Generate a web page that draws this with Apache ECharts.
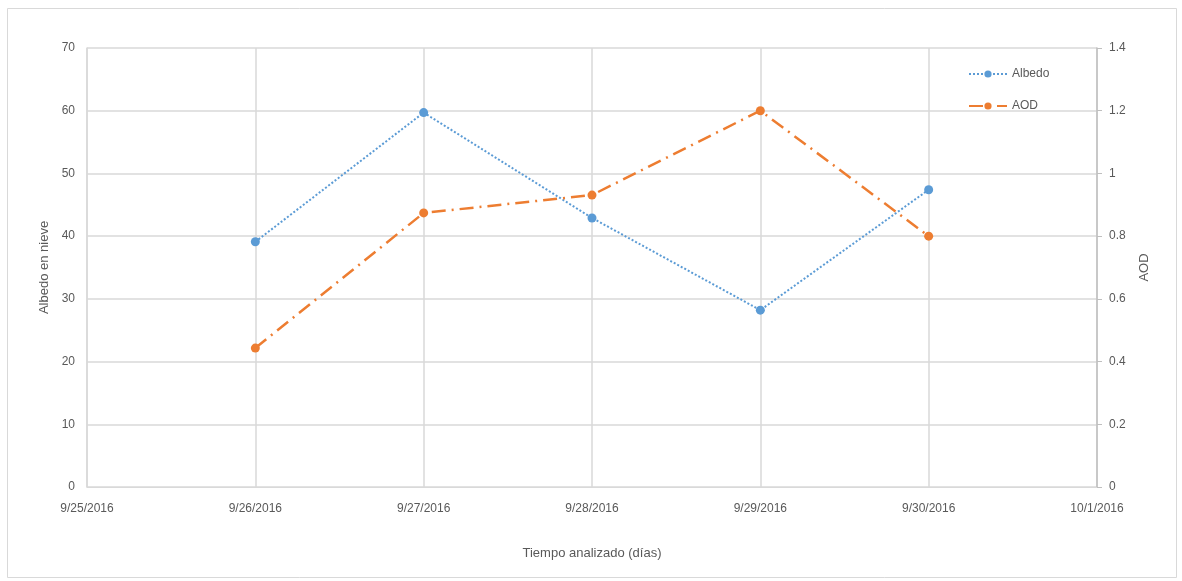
<!DOCTYPE html>
<html>
<head>
<meta charset="utf-8">
<script src="https://cdn.jsdelivr.net/npm/echarts@6/dist/echarts.min.js"></script>
<style>
  html, body { margin: 0; padding: 0; background: #ffffff; }
  #chart { width: 1182px; height: 581px; }
</style>
</head>
<body>
<div id="chart"></div>
<script>
// Daily categories along the time axis (first and last are empty margins)
const dates = ['9/25/2016', '9/26/2016', '9/27/2016', '9/28/2016', '9/29/2016', '9/30/2016', '10/1/2016'];
// Snow albedo (left axis)
const albedo = [null, 39.1, 59.7, 42.9, 28.2, 47.4, null];
// Aerosol optical depth (right axis)
const aod = [null, 0.443, 0.874, 0.931, 1.2, 0.8, null];

const textColor = '#595959';
const gridColor = '#d9d9d9';
const font = 'Liberation Sans, Arial, sans-serif';

const chart = echarts.init(document.getElementById('chart'), null, { renderer: 'canvas' });

chart.setOption({
  animation: false,
  backgroundColor: '#ffffff',
  textStyle: { fontFamily: font },
  graphic: [{
    type: 'rect',
    shape: { x: 7.5, y: 8.5, width: 1169, height: 569 },
    style: { fill: 'none', stroke: gridColor, lineWidth: 1 },
    silent: true
  }],
  grid: { left: 87, right: 85, top: 48, bottom: 94 },
  legend: {
    orient: 'vertical',
    left: 963,
    top: 63,
    itemWidth: 38,
    itemHeight: 9,
    itemGap: 20,
    textStyle: { color: textColor, fontSize: 12, fontFamily: font },
    data: ['Albedo', 'AOD']
  },
  xAxis: {
    type: 'category',
    data: dates,
    boundaryGap: false,
    name: 'Tiempo analizado (días)',
    nameLocation: 'middle',
    nameGap: 60,
    nameTextStyle: { color: textColor, fontSize: 13, fontFamily: font },
    axisLine: { show: true, lineStyle: { color: gridColor, width: 1 } },
    axisTick: { show: false },
    axisLabel: { color: textColor, fontSize: 12, margin: 16, fontFamily: font },
    splitLine: { show: true, lineStyle: { color: gridColor, width: 1.5 } }
  },
  yAxis: [{
    type: 'value',
    min: 0, max: 70, interval: 10,
    position: 'left',
    name: 'Albedo en nieve',
    nameLocation: 'middle',
    nameGap: 29,
    nameRotate: 90,
    nameTextStyle: { color: textColor, fontSize: 13, fontFamily: font },
    axisLine: { show: true, lineStyle: { color: gridColor, width: 1.5 } },
    axisTick: { show: false },
    axisLabel: { color: textColor, fontSize: 12, margin: 12, fontFamily: font },
    splitLine: { show: true, lineStyle: { color: gridColor, width: 1.5 } }
  }, {
    type: 'value',
    min: 0, max: 1.4, interval: 0.2,
    position: 'right',
    name: 'AOD',
    nameLocation: 'middle',
    nameGap: 41,
    nameRotate: 90,
    nameTextStyle: { color: textColor, fontSize: 13, fontFamily: font },
    axisLine: { show: true, lineStyle: { color: '#bfbfbf', width: 1.5 } },
    axisTick: { show: true, length: 5, lineStyle: { color: '#bfbfbf' } },
    axisLabel: { color: textColor, fontSize: 12, margin: 12, fontFamily: font },
    splitLine: { show: false }
  }],
  series: [{
    name: 'Albedo',
    type: 'line',
    yAxisIndex: 0,
    data: albedo,
    symbol: 'circle',
    symbolSize: 9,
    itemStyle: { color: '#5b9bd5' },
    lineStyle: { color: '#5b9bd5', width: 2, type: [2, 2] },
    z: 3
  }, {
    name: 'AOD',
    type: 'line',
    yAxisIndex: 1,
    data: aod,
    symbol: 'circle',
    symbolSize: 9,
    itemStyle: { color: '#ed7d31' },
    lineStyle: { color: '#ed7d31', width: 2.5, type: [14, 6, 2, 6] },
    z: 4
  }]
});
</script>
</body>
</html>
